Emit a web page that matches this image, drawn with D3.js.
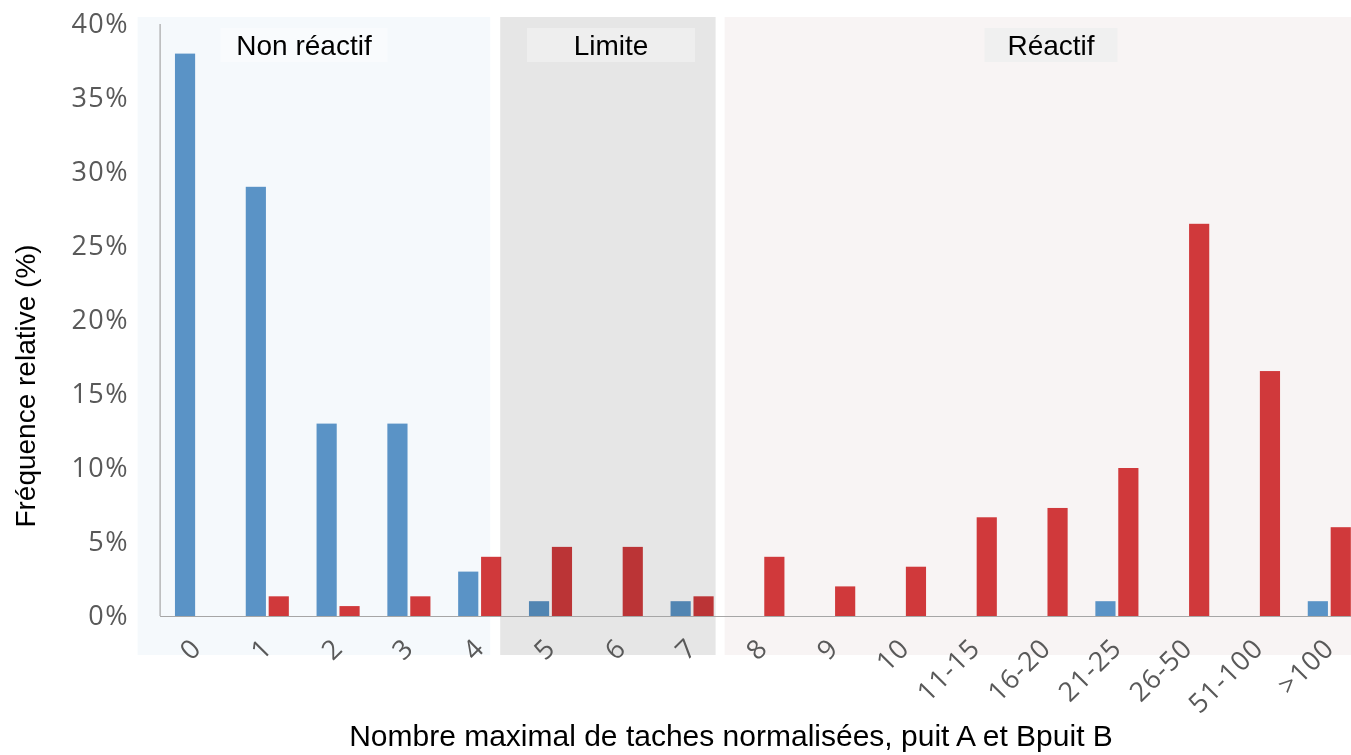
<!DOCTYPE html>
<html>
<head>
<meta charset="utf-8">
<script src="https://cdn.jsdelivr.net/npm/d3@7"></script>
<style>
  body { margin: 0; background: #fff; }
  text { font-family: "Liberation Sans", Arial, sans-serif; }
  .tick text { font-family: "Open Sans", sans-serif; fill: #595959; }
</style>
</head>
<body>
<script>
var w = 1351;
var h = 755;

var categories = ["0", "1", "2", "3", "4", "5", "6", "7", "8", "9", "10",
  "11-15", "16-20", "21-25", "26-50", "51-100", ">100"];
var seriesA = [38, 29, 13, 13, 3, 1, 0, 1, 0, 0, 0, 0, 0, 1, 0, 0, 1];
var seriesB = [0, 1.33, 0.67, 1.33, 4, 4.67, 4.67, 1.33, 4, 2, 3.33, 6.67, 7.3, 10, 26.5, 16.55, 6];
var yTicks = [0, 5, 10, 15, 20, 25, 30, 35, 40];
var zones = ["Non réactif", "Limite", "Réactif"];

var plotLeft = 161.6, plotTop = 24, plotBottom = 616;
var step = 70.8;

var svg = d3.select("body").append("svg")
  .attr("width", w)
  .attr("height", h);

var x = d3.scaleBand()
  .domain(categories)
  .range([plotLeft, plotLeft + step * categories.length])
  .padding(0);

var sub = d3.scaleBand()
  .domain(["A", "B"])
  .range([-22.5, 21.5])
  .paddingInner(0.12)
  .paddingOuter(0.02);

var y = d3.scaleLinear()
  .domain([0, 40])
  .range([plotBottom, plotTop]);

function cx(c) { return x(c) + x.bandwidth() / 2; }

// zone backgrounds
var zoneBox = [
  { x0: plotLeft - 24, x1: cx("4") + 10, fill: "#f5f9fc", lab: "#f9fbfd", mid: 304, lw: 167 },
  { x0: cx("4") + 20, x1: cx("7") + 23, fill: "#e8e8e8", lab: "#eeeeee", mid: 611, lw: 168 },
  { x0: cx("7") + 32, x1: w, fill: "#f8f4f4", lab: "#f0f0f0", mid: 1051, lw: 133 }
];
svg.selectAll("rect.bg")
  .data([zoneBox[0], zoneBox[2]])
  .enter().append("rect")
  .attr("class", "bg")
  .attr("x", function(d) { return d.x0; })
  .attr("y", 17)
  .attr("width", function(d) { return d.x1 - d.x0; })
  .attr("height", 638)
  .attr("fill", function(d) { return d.fill; });

svg.append("line")
  .attr("x1", plotLeft - 1.5).attr("x2", plotLeft - 1.5)
  .attr("y1", plotTop).attr("y2", plotBottom)
  .attr("stroke", "#a6a6a6").attr("stroke-width", 1.2);

// bars
var groups = svg.selectAll("g.cat")
  .data(categories)
  .enter().append("g")
  .attr("class", "cat")
  .attr("transform", function(d) { return "translate(" + cx(d) + ",0)"; });

groups.append("rect")
  .attr("x", sub("A"))
  .attr("width", sub.bandwidth())
  .attr("y", function(d, i) { return y(seriesA[i]); })
  .attr("height", function(d, i) { return plotBottom - y(seriesA[i]); })
  .attr("fill", "#5a93c6");

groups.append("rect")
  .attr("x", sub("B"))
  .attr("width", sub.bandwidth())
  .attr("y", function(d, i) { return y(seriesB[i]); })
  .attr("height", function(d, i) { return plotBottom - y(seriesB[i]); })
  .attr("fill", "#d0393b");

// grey "Limite" zone laid over the bars
var lb = zoneBox[1];
svg.append("rect")
  .attr("x", lb.x0).attr("y", 17)
  .attr("width", lb.x1 - lb.x0).attr("height", 638)
  .attr("fill", "#e6e6e6")
  .style("mix-blend-mode", "multiply");

svg.append("line")
  .attr("x1", plotLeft - 1.5).attr("x2", w)
  .attr("y1", plotBottom + 0.5).attr("y2", plotBottom + 0.5)
  .attr("stroke", "#a6a6a6").attr("stroke-width", 1.2);

// zone labels
zones.forEach(function(z, i) {
  var b = zoneBox[i];
  svg.append("rect")
    .attr("x", b.mid - b.lw / 2).attr("y", 28)
    .attr("width", b.lw).attr("height", 34)
    .attr("fill", b.lab);
  svg.append("text")
    .attr("x", b.mid).attr("y", 55)
    .attr("text-anchor", "middle")
    .attr("font-size", "28px")
    .attr("fill", "#000")
    .text(z);
});

// y axis ticks
var yAxis = svg.append("g")
  .attr("transform", "translate(" + (plotLeft - 1.5) + ",0)")
  .call(d3.axisLeft(y).tickValues(yTicks).tickSize(0).tickPadding(31)
    .tickFormat(function(d) { return d + "%"; }));
yAxis.select(".domain").remove();
yAxis.selectAll("text").attr("font-size", "27px").style("letter-spacing", "1.5px");

// x axis labels
var xAxis = svg.append("g")
  .attr("transform", "translate(0," + plotBottom + ")")
  .call(d3.axisBottom(x).tickSize(0).tickFormat(function(d) { return d; }));
xAxis.select(".domain").remove();
xAxis.selectAll("text")
  .attr("font-size", "27px")
  .style("letter-spacing", "1px")
  .attr("text-anchor", "end")
  .attr("dy", "0.35em")
  .attr("transform", "translate(-3,25) rotate(-45)");

// titles
svg.append("text")
  .attr("transform", "translate(35,386) rotate(-90)")
  .attr("text-anchor", "middle")
  .attr("font-size", "28px")
  .text("Fréquence relative (%)");

svg.append("text")
  .attr("x", 731).attr("y", 746)
  .attr("text-anchor", "middle")
  .attr("font-size", "30px")
  .text("Nombre maximal de taches normalisées, puit A et Bpuit B");
</script>
</body>
</html>
